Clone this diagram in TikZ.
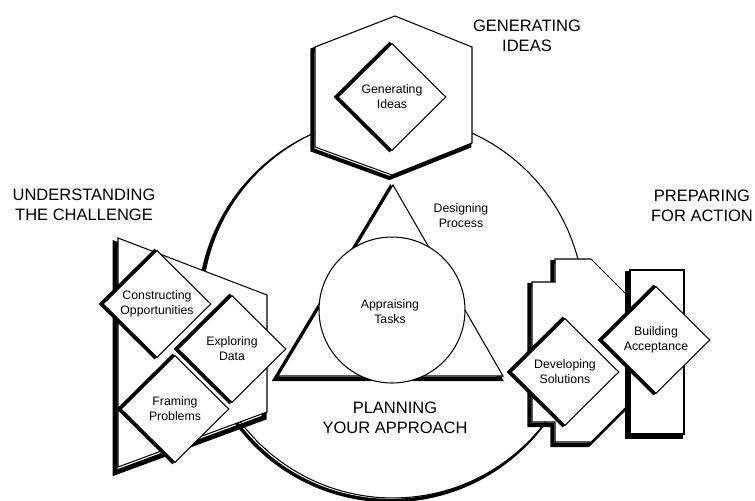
\documentclass[tikz,border=0pt]{standalone}
\usepackage{fontspec}
\setmainfont{Liberation Sans}
\usetikzlibrary{shapes,positioning}

\newcommand{\smallfont}{\fontsize{7}{8.5}\selectfont}
\newcommand{\bigfont}{\fontsize{9.4}{11.5}\selectfont}

\tikzstyle{task} = [diamond, draw, fill=white, line width=0.6pt, aspect=1,
    minimum width=2.16cm, minimum height=2.14cm, inner sep=0pt,
    align=center, font=\smallfont,
    preaction={draw=black, line width=1.7pt, transform canvas={xshift=-1.4pt}}]
\tikzstyle{panel} = [draw, fill=white, line width=0.6pt,
    preaction={draw=black, line width=2.3pt,
    transform canvas={xshift=-1.5pt, yshift=-1.7pt}}]
\tikzstyle{bigpanel} = [draw, fill=white, line width=0.6pt,
    preaction={draw=black, line width=2.8pt,
    transform canvas={xshift=-1.6pt, yshift=-3.2pt}}]
\tikzstyle{ring} = [draw, fill=white, line width=0.6pt,
    preaction={draw=black, line width=2pt,
    transform canvas={xshift=-1.5pt, yshift=-1.5pt}}]
\tikzstyle{outline} = [draw, fill=white, line width=0.6pt]
\tikzstyle{tasktext} = [align=center, font=\smallfont]
\tikzstyle{title} = [align=center, font=\bigfont]

\begin{document}
\begin{tikzpicture}[x=0.02cm, y=-0.02cm]
    \useasboundingbox (0,0) rectangle (755,501);
    % Draw shapes
    \draw [ring] (393,307) circle [radius=3.82cm];
    \draw [panel] (395,16) -- (472,47) -- (472,143) -- (392,175)
        -- (315,147) -- (315,47) -- cycle;
    \draw [panel] (393,185) -- (503,376) -- (278,376) -- cycle;
    \draw [outline] (392,310) circle [radius=1.46cm];
    \draw [bigpanel] (118,238) -- (267,295) -- (267,412) -- (118,467) -- cycle;
    \draw [panel] (555,259) -- (591,259) -- (628,296) -- (628,405)
        -- (591,442) -- (555,442) -- (555,422) -- (532,422)
        -- (532,282) -- (555,282) -- cycle;
    \draw [panel] (630,270) rectangle (684,434);
    % Place nodes
    \node [task] (ideas) at (392,97) {Generating\\Ideas};
    \node [task] (constructing) at (157,304) {Constructing\\Opportunities};
    \node [task] (exploring) at (232,349) {Exploring\\Data};
    \node [task] (framing) at (175,409) {Framing\\Problems};
    \node [task] (building) at (656,340) {Building\\Acceptance};
    \node [task] (developing) at (565,372) {Developing\\Solutions};
    \node [tasktext] (designing) at (461,216) {Designing\\Process};
    \node [tasktext] (appraising) at (390,312) {Appraising\\Tasks};
    % Phase titles
    \node [title] (generating) at (527,36) {GENERATING\\IDEAS};
    \node [title] (understanding) at (84,205) {UNDERSTANDING\\THE CHALLENGE};
    \node [title] (preparing) at (702,206) {PREPARING\\FOR ACTION};
    \node [title] (planning) at (395,418) {PLANNING\\YOUR APPROACH};
\end{tikzpicture}
\end{document}
